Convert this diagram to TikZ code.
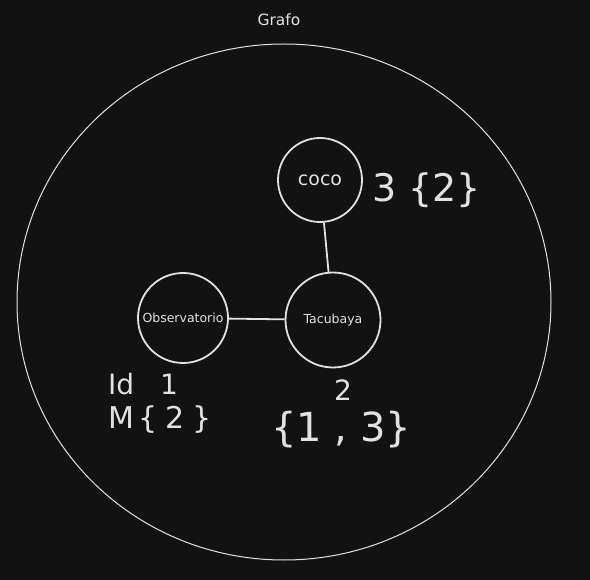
\documentclass[tikz,border=0pt]{standalone}
\usepackage{fontspec}
\setmainfont{DejaVu Sans}
\usetikzlibrary{shapes.geometric}
\begin{document}
\begin{tikzpicture}[x=1pt,y=-1pt,
  ink/.style={draw=inkc, line width=1.8pt},
  vertex/.style={circle, ink, inner sep=0pt, text=inkc},
  hand/.style={text=inkc, inner sep=0pt},
]
\definecolor{bg}{HTML}{121212}
\definecolor{inkc}{HTML}{E2E2E2}
\fill[bg] (0,0) rectangle (590,580);
\useasboundingbox (0,0) rectangle (590,580);
\node[hand, font=\fontsize{15.5}{18}\selectfont] (title) at (279,20) {Grafo};
\node[draw=inkc, line width=1pt, ellipse, minimum width=534, minimum height=516, inner sep=0pt] (graph) at (284,302) {};
\node[vertex, minimum size=90, font=\fontsize{12.5}{15}\selectfont] (obs) at (183,318) {Observatorio};
\node[vertex, minimum size=95, font=\fontsize{12.5}{15}\selectfont] (tac) at (333,320) {Tacubaya};
\node[vertex, minimum size=84, font=\fontsize{19}{22}\selectfont] (coco) at (320,180) {coco};
\draw[ink] (obs) -- (tac);
\draw[ink] (coco) -- (tac);
\node[hand, font=\fontsize{38}{44}\selectfont, anchor=west] (cocolab) at (372,190) {3 \{2\}};
\node[hand, font=\fontsize{28}{32}\selectfont, anchor=west] (obsid) at (108,384) {Id\hspace{26pt}1};
\node[hand, font=\fontsize{30}{34}\selectfont, anchor=west] (obsm) at (108,420) {M\hspace{4pt}\{\hspace{8pt}2\hspace{8pt}\}};
\node[hand, font=\fontsize{28}{32}\selectfont] (tacid) at (343,390) {2};
\node[hand, font=\fontsize{40}{46}\selectfont] (tacm) at (341,430) {\{1 , 3\}};
\end{tikzpicture}
\end{document}
